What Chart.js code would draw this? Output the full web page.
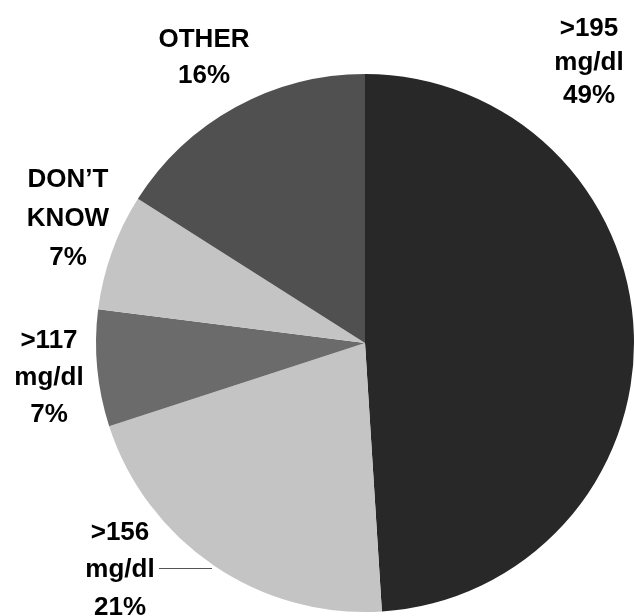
<!DOCTYPE html>
<html><head><meta charset="utf-8">
<script src="https://cdn.jsdelivr.net/npm/chart.js@4"></script>
<style>html,body{margin:0;padding:0;background:#fff}canvas{display:block}</style>
</head><body>
<canvas id="c" width="635" height="616"></canvas>
<script>
const categories = [">195 mg/dl", ">156 mg/dl", ">117 mg/dl", "DON'T KNOW", "OTHER"];
const values = [49, 21, 7, 7, 16];
const labelLines = [[">195", "mg/dl", "49%"], [">156", "mg/dl", "21%"], [">117", "mg/dl", "7%"], ["DON\u2019T", "KNOW", "7%"], ["OTHER", "16%"]];
const colors = ["#282828", "#c4c4c4", "#6b6b6b", "#c4c4c4", "#505050"];
const labelPos = [
  {x: 589, ys: [36, 69.5, 103]},
  {x: 120, ys: [540, 577, 615]},
  {x: 49, ys: [348, 385, 422]},
  {x: 68, ys: [187, 226, 265]},
  {x: 204, ys: [47, 83]}
];
const labelPlugin = {
  id: 'labels',
  afterDraw(chart) {
    const ctx = chart.ctx;
    ctx.save();
    ctx.fillStyle = '#000';
    ctx.font = 'bold 26px "Liberation Sans", Arial, sans-serif';
    ctx.textAlign = 'center';
    ctx.textBaseline = 'alphabetic';
    labelLines.forEach((lines, i) => {
      lines.forEach((t, j) => ctx.fillText(t, labelPos[i].x, labelPos[i].ys[j]));
    });
    ctx.strokeStyle = '#555';
    ctx.lineWidth = 1;
    ctx.beginPath();
    ctx.moveTo(159, 568.5);
    ctx.lineTo(212, 568.5);
    ctx.stroke();
    ctx.restore();
  }
};
new Chart(document.getElementById('c'), {
  type: 'pie',
  data: { labels: categories, datasets: [{ data: values, backgroundColor: colors, borderWidth: 0, hoverOffset: 0 }] },
  options: {
    responsive: false,
    animation: false,
    events: [],
    layout: { padding: { left: 96, right: 1, top: 74, bottom: 4 } },
    plugins: { legend: { display: false }, tooltip: { enabled: false } }
  },
  plugins: [labelPlugin]
});
</script>
</body></html>
